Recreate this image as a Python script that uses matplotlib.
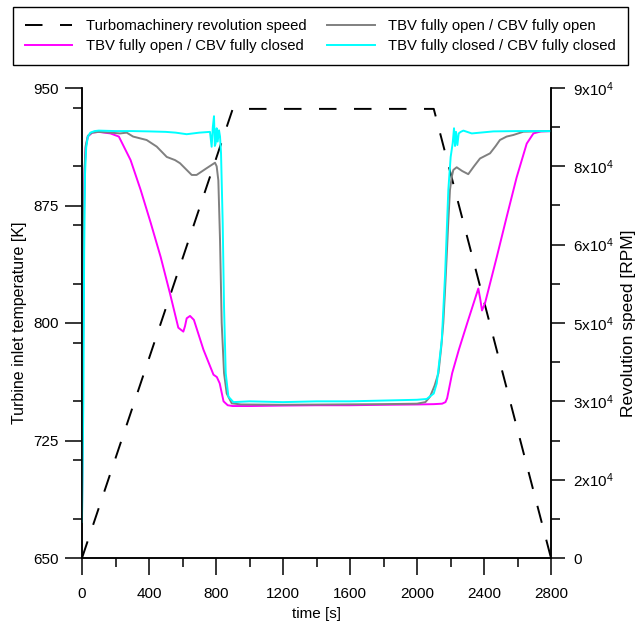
import matplotlib
matplotlib.use("Agg")
import matplotlib.pyplot as plt
from matplotlib.ticker import MultipleLocator, FixedLocator

plt.rcParams['font.family'] = ['Liberation Sans', 'DejaVu Sans']
plt.rcParams['mathtext.default'] = 'regular'
plt.rcParams['font.size'] = 11

# turbomachinery revolution speed [RPM]
speed_t = [0, 900, 2100, 2800]
speed_rpm = [0, 86000, 86000, 0]

# TBV fully open / CBV fully closed (magenta)
mag_t = [0, 5, 10, 15, 22, 35, 60, 100, 170, 220, 290, 350, 410, 470, 525, 575, 605,
         615, 625, 645, 668, 725, 785, 805, 822, 845, 870, 900, 1000, 1200, 1400, 1600,
         1800, 2000, 2100, 2150, 2170, 2180, 2210, 2250, 2300, 2366, 2378, 2388, 2406,
         2476, 2536, 2595, 2655, 2695, 2740, 2800]
mag_T = [678, 760, 850, 895, 912, 919, 921.5, 922, 921, 919, 904, 885, 864, 842, 819, 797,
         794.5, 798, 803, 804.5, 802, 783, 767, 765.5, 761.5, 750, 747.5, 747, 747, 747.3,
         747.5, 747.5, 747.8, 748, 748.2, 748.5, 749.5, 752, 768, 783, 800, 822, 815, 808,
         812.6, 842, 868, 893, 914.5, 921, 922.3, 922.5]

# TBV fully open / CBV fully open (gray)
gray_t = [0, 5, 10, 15, 22, 35, 60, 100, 170, 227, 267, 305, 386, 446, 506, 555, 585,
          625, 655, 684, 744, 794, 804, 814, 824, 834, 848, 864, 894, 950, 1200, 1500,
          1800, 2000, 2050, 2078, 2105, 2128, 2145, 2157, 2167, 2177, 2187, 2197, 2207,
          2217, 2237, 2270, 2306, 2340, 2376, 2436, 2470, 2495, 2535, 2575, 2635, 2700, 2800]
gray_T = [676, 765, 855, 898, 913, 919.5, 921.5, 922, 921.5, 921, 921.5, 919, 916.8, 912.6,
          906, 904, 902, 897.7, 894.5, 894.5, 898.8, 902.3, 900, 891, 853, 800, 768, 755,
          748.7, 748, 747.8, 748, 748.2, 748.5, 749.5, 753, 760, 768, 785, 800, 820, 842,
          865, 885, 893, 897.7, 899.4, 897, 895, 900, 905, 908.3, 913, 916.8, 919, 920,
          922.1, 922.3, 922.5]

# TBV fully closed / CBV fully closed (cyan)
cyan_t = [0, 8, 13, 18, 25, 35, 50, 75, 100, 200, 300, 400, 500, 560, 625, 700, 764,
          774, 781, 788, 793, 798, 804, 810, 818, 824, 830, 840, 848, 858, 874, 904, 1000,
          1200, 1400, 1600, 1800, 2000, 2058, 2100, 2118, 2148, 2168, 2187, 2201, 2213,
          2221, 2227, 2233, 2241, 2249, 2261, 2277, 2327, 2456, 2600, 2800]
cyan_T = [673, 750, 845, 895, 912, 919, 921.5, 922.5, 922.8, 922.5, 922.5, 922.3, 922,
          921.5, 920.5, 921.5, 922, 912.5, 925, 932, 913, 914.7, 924.3, 915.8, 923, 919,
          908.3, 863.6, 810, 768, 753, 749.5, 750, 749.5, 750, 750, 750.5, 751, 751.5,
          755, 761.5, 789, 831.7, 885, 906, 914.7, 924.3, 913, 922, 913.6, 921, 922,
          922.8, 921, 922.3, 922.5, 922.5]

temp_ticks = [650, 725, 800, 875, 950]
speed_ticks = [0, 15000, 30000, 45000, 60000, 75000, 90000]
speed_ticklabels = ['0', '2x10$^4$', '3x10$^4$', '5x10$^4$', '6x10$^4$', '8x10$^4$', '9x10$^4$']

fig = plt.figure(figsize=(6.38, 6.24), dpi=100)
ax = fig.add_axes([82 / 638, 1 - 558 / 624, 469 / 638, 470 / 624])
ax2 = ax.twinx()

l_speed, = ax2.plot(speed_t, speed_rpm, color='black', lw=1.4, dashes=(9, 9),
                    label='Turbomachinery revolution speed')
l_mag, = ax.plot(mag_t, mag_T, color='#ff00ff', lw=1.4, label='TBV fully open / CBV fully closed')
l_gray, = ax.plot(gray_t, gray_T, color='#808080', lw=1.4, label='TBV fully open / CBV fully open')
l_cyan, = ax.plot(cyan_t, cyan_T, color='#00ffff', lw=1.4, label='TBV fully closed / CBV fully closed')

ax.set_zorder(ax2.get_zorder() + 1)
ax.patch.set_visible(False)

ax.set_xlim(0, 2800)
ax.set_ylim(650, 950)
ax2.set_ylim(0, 90000)

ax.xaxis.set_major_locator(MultipleLocator(400))
ax.xaxis.set_minor_locator(MultipleLocator(200))
ax.yaxis.set_major_locator(FixedLocator(temp_ticks))
ax.yaxis.set_minor_locator(MultipleLocator(37.5))
ax2.yaxis.set_major_locator(FixedLocator(speed_ticks))
ax2.set_yticklabels(speed_ticklabels)
ax2.yaxis.set_minor_locator(MultipleLocator(7500))

for a in (ax, ax2):
    a.spines['top'].set_visible(False)
    for s in a.spines.values():
        s.set_linewidth(1.1)
ax.tick_params(which='major', direction='out', length=12, width=1.1, pad=5)
ax.tick_params(axis='x', which='major', pad=9)
ax.tick_params(which='minor', direction='out', length=6.5, width=1.1)
ax2.tick_params(which='major', direction='out', length=10, width=1.1, pad=6)
ax2.tick_params(which='minor', direction='out', length=6.5, width=1.1)

ax.set_xlabel('time [s]', fontsize=11, labelpad=4)
ax.set_ylabel('Turbine inlet temperature [K]', fontsize=11.5, labelpad=4)
ax2.set_ylabel('Revolution speed [RPM]', fontsize=12.5, labelpad=5)

fig.legend(handles=[l_speed, l_mag, l_gray, l_cyan], ncol=2, loc='upper left',
           bbox_to_anchor=(13 / 638, 1 - 63 / 624, 615 / 638, 56 / 624), mode='expand',
           frameon=True, fancybox=False, edgecolor='black', framealpha=1,
           fontsize=10.7, handlelength=3.2, handletextpad=0.9, borderpad=0.8,
           labelspacing=0.4, borderaxespad=0)

fig.savefig('out.png', dpi=100)
